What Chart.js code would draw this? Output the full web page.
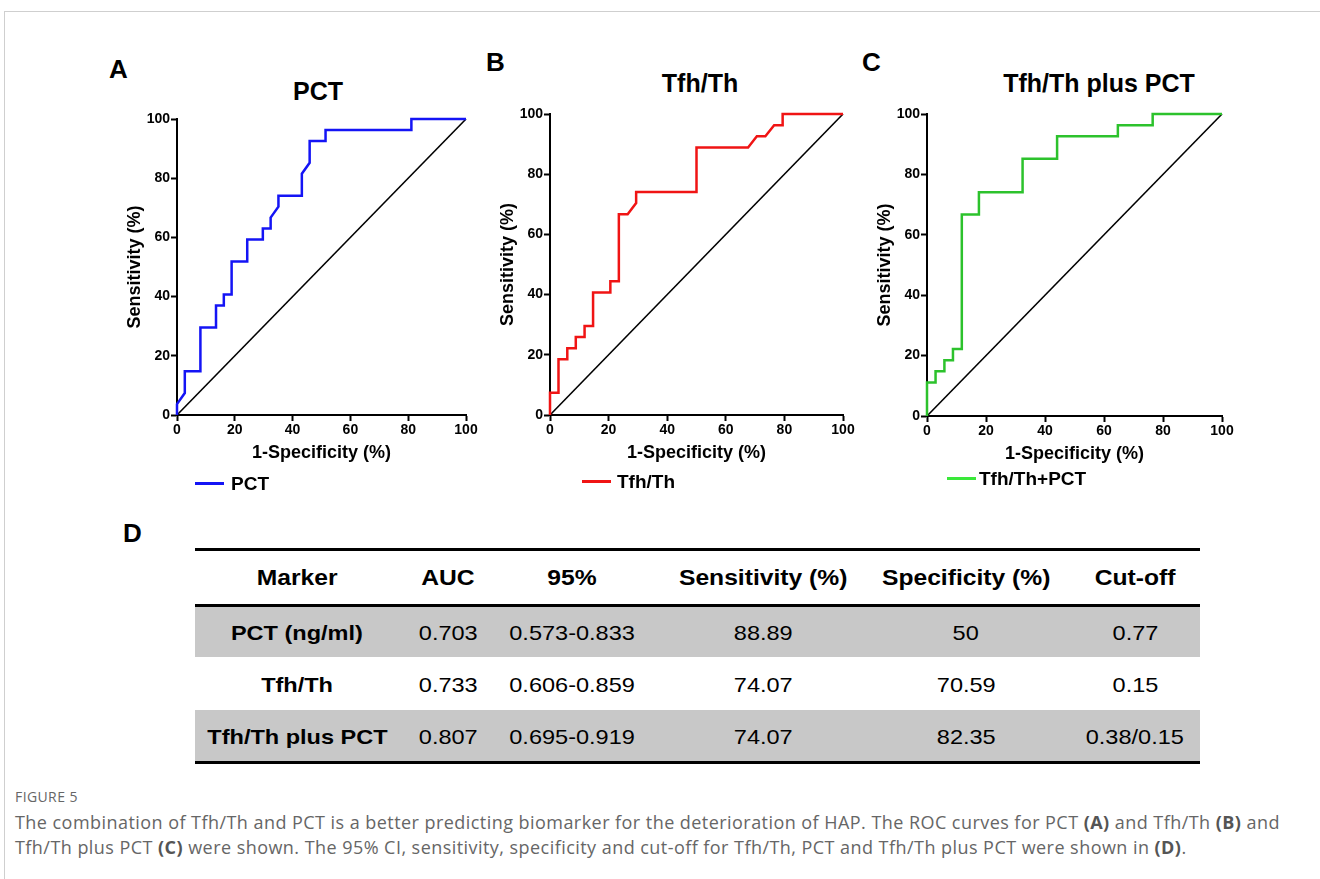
<!DOCTYPE html>
<html lang="en">
<head>
<meta charset="UTF-8">
<title>Figure 5 - ROC curves</title>
<script src="https://cdn.jsdelivr.net/npm/chart.js"></script>
<style>
  html, body { margin: 0; padding: 0; background: #fff; }
  body { width: 1320px; height: 879px; position: relative; overflow: hidden;
         font-family: "Liberation Sans", Arial, Helvetica, sans-serif; color: #000; }
  .frame { position: absolute; left: 4px; top: 11px; width: 1400px; height: 900px;
           border-top: 1px solid #cfcfcf; border-left: 1px solid #cfcfcf; }
  .abs { position: absolute; white-space: nowrap; }
  .letter { font-weight: bold; font-size: 26px; height: 30px; line-height: 30px; }
  .title { font-weight: bold; font-size: 25px; height: 30px; line-height: 30px; width: 300px; text-align: center; }
  .chartbox { position: absolute; }
  .leg-line { position: absolute; height: 3px; width: 29px; }
  .leg-text { position: absolute; font-weight: bold; font-size: 19px; height: 24px; line-height: 24px; }
  .rule { position: absolute; left: 195px; width: 1005px; height: 3px; background: #000; }
  .band { position: absolute; left: 195px; width: 1005px; background: #c8c8c8; }
  .cell { position: absolute; width: 240px; text-align: center; height: 30px; line-height: 30px; font-size: 21px; }
  .cell span { display: inline-block; transform: scaleX(1.12); }
  .cell.b { font-weight: bold; }
  .cell.h { font-weight: bold; font-size: 22px; }
  .cap { position: absolute; left: 15px; font-family: "Open Sans", "Noto Sans", sans-serif; color: #666; white-space: nowrap; }
  .cap b { color: #555; }
</style>
</head>
<body>
<div class="frame"></div>

<!-- panel letters and titles -->
<div class="abs letter" style="left:109px; top:54px;">A</div>
<div class="abs letter" style="left:486px; top:47px;">B</div>
<div class="abs letter" style="left:862px; top:47px;">C</div>
<div class="abs letter" style="left:123px; top:518px;">D</div>

<div class="abs title" style="left:168px; top:76px;">PCT</div>
<div class="abs title" style="left:550px; top:68px;">Tfh/Th</div>
<div class="abs title" style="left:949px; top:68px;">Tfh/Th plus PCT</div>

<div class="chartbox" style="left:117px; top:109px;"><canvas id="chartA" width="364" height="359"></canvas></div>
<div class="chartbox" style="left:490px; top:104px;"><canvas id="chartB" width="368" height="364"></canvas></div>
<div class="chartbox" style="left:867px; top:104px;"><canvas id="chartC" width="370" height="365"></canvas></div>

<div id="legends"></div>
<div id="table"></div>

<div class="cap" style="top:787px; font-size:14px; letter-spacing:0.4px;">FIGURE 5</div>
<div class="cap" style="top:810px; font-size:18px; line-height:25px; letter-spacing:0.45px;">
The combination of Tfh/Th and PCT is a better predicting biomarker for the deterioration of HAP. The ROC curves for PCT <b>(A)</b> and Tfh/Th <b>(B)</b> and<br>
Tfh/Th plus PCT <b>(C)</b> were shown. The 95% CI, sensitivity, specificity and cut-off for Tfh/Th, PCT and Tfh/Th plus PCT were shown in <b>(D)</b>.
</div>

<script>
// ROC vertices: x = 1-Specificity (%), y = Sensitivity (%)
const pctX = [0, 0, 2.7, 2.7, 8.1, 8.1, 13.5, 13.5, 16.2, 16.2, 18.9, 18.9, 24.3, 24.3, 29.7, 29.7,
              32.4, 32.4, 35.1, 35.1, 43.2, 43.2, 45.9, 45.9, 51.4, 51.4, 81.1, 81.1, 100];
const pctY = [0, 3.7, 7.4, 14.8, 14.8, 29.6, 29.6, 37.0, 37.0, 40.7, 40.7, 51.9, 51.9, 59.3, 59.3, 63.0,
              63.0, 66.7, 70.4, 74.1, 74.1, 81.5, 85.2, 92.6, 92.6, 96.3, 96.3, 100, 100];

const tfhX = [0, 0, 2.9, 2.9, 5.9, 5.9, 8.8, 8.8, 11.8, 11.8, 14.7, 14.7, 20.6, 20.6, 23.5, 23.5,
              26.5, 29.4, 29.4, 50, 50, 67.6, 70.6, 73.5, 76.5, 79.4, 79.4, 100];
const tfhY = [0, 7.4, 7.4, 18.5, 18.5, 22.2, 22.2, 25.9, 25.9, 29.6, 29.6, 40.7, 40.7, 44.4, 44.4, 66.7,
              66.7, 70.4, 74.1, 74.1, 88.9, 88.9, 92.6, 92.6, 96.3, 96.3, 100, 100];

const comboX = [0, 0, 2.9, 2.9, 5.9, 5.9, 8.8, 8.8, 11.8, 11.8, 17.6, 17.6, 32.4, 32.4, 44.1, 44.1,
                64.7, 64.7, 76.5, 76.5, 100];
const comboY = [0, 11.1, 11.1, 14.8, 14.8, 18.5, 18.5, 22.2, 22.2, 66.7, 66.7, 74.1, 74.1, 85.2, 85.2, 92.6,
                92.6, 96.3, 96.3, 100, 100];

// reference (chance) line
const diagX = [0, 100];
const diagY = [0, 100];

const axisTicks = [0, 20, 40, 60, 80, 100];

// legend entries
const legendNames = ['PCT', 'Tfh/Th', 'Tfh/Th+PCT'];

// table D
const tableHead = ['Marker', 'AUC', '95%', 'Sensitivity (%)', 'Specificity (%)', 'Cut-off'];
const markers = ['PCT (ng/ml)', 'Tfh/Th', 'Tfh/Th plus PCT'];
const aucVals = ['0.703', '0.733', '0.807'];
const ciVals = ['0.573-0.833', '0.606-0.859', '0.695-0.919'];
const sensVals = ['88.89', '74.07', '74.07'];
const specVals = ['50', '70.59', '82.35'];
const cutoffVals = ['0.77', '0.15', '0.38/0.15'];

const FONT = '"Liberation Sans", Arial, Helvetica, sans-serif';
Chart.defaults.font.family = FONT;
Chart.defaults.color = '#000';

function toPoints(xs, ys) {
  return xs.map((x, i) => ({ x: x, y: ys[i] }));
}

function makeRoc(id, xs, ys, color) {
  const ctx = document.getElementById(id).getContext('2d');
  return new Chart(ctx, {
    type: 'scatter',
    data: {
      datasets: [{
        data: toPoints(xs, ys),
        showLine: true,
        borderColor: color,
        borderWidth: 2.5,
        pointRadius: 0,
        tension: 0,
        clip: false
      }, {
        data: toPoints(diagX, diagY),
        showLine: true,
        borderColor: '#000',
        borderWidth: 1.6,
        pointRadius: 0,
        clip: false
      }]
    },
    options: {
      responsive: false,
      animation: false,
      devicePixelRatio: 1,
      layout: { padding: { left: 3, top: 10, right: 15, bottom: 0 } },
      plugins: { legend: { display: false }, tooltip: { enabled: false } },
      scales: {
        x: {
          type: 'linear', min: 0, max: 100,
          afterBuildTicks: s => { s.ticks = axisTicks.map(v => ({ value: v })); },
          ticks: { color: '#000', font: { size: 14, weight: 'bold' }, padding: 1, maxRotation: 0 },
          grid: { drawOnChartArea: false, drawTicks: true, tickLength: 6, tickWidth: 2, tickColor: '#000' },
          border: { color: '#000', width: 2 },
          title: { display: true, text: '1-Specificity (%)', color: '#000',
                   font: { size: 18, weight: 'bold' }, padding: { top: 0, bottom: 4 } },
          afterFit: s => { s.height = 53; }
        },
        y: {
          type: 'linear', min: 0, max: 100,
          afterBuildTicks: s => { s.ticks = axisTicks.map(v => ({ value: v })); },
          ticks: { color: '#000', font: { size: 14, weight: 'bold' }, padding: 1 },
          grid: { drawOnChartArea: false, drawTicks: true, tickLength: 6, tickWidth: 2, tickColor: '#000' },
          border: { color: '#000', width: 2 },
          title: { display: true, text: 'Sensitivity (%)', color: '#000',
                   font: { size: 18, weight: 'bold' }, padding: { top: 4, bottom: 0 } },
          afterFit: s => { s.width = 57; }
        }
      }
    }
  });
}

const colors = ['#1414f5', '#f01414', '#2cc22c'];
const legendColors = ['#1414f5', '#f01414', '#3ae83a'];
makeRoc('chartA', pctX, pctY, colors[0]);
makeRoc('chartB', tfhX, tfhY, colors[1]);
makeRoc('chartC', comboX, comboY, colors[2]);

// legends under each panel
const legendPos = [
  { line: 195, text: 231, y: 483 },
  { line: 582, text: 617, y: 481 },
  { line: 947, text: 979, y: 478 }
];
const legHost = document.getElementById('legends');
legendNames.forEach((name, i) => {
  const p = legendPos[i];
  legHost.insertAdjacentHTML('beforeend',
    `<div class="leg-line" style="left:${p.line}px; top:${p.y - 1.5}px; background:${legendColors[i]};"></div>` +
    `<div class="leg-text" style="left:${p.text}px; top:${p.y - 11}px;">${name}</div>`);
});

// table D
const colCenters = [297, 448, 572, 763, 966, 1135];
const rowCenters = [633, 685, 737];
const tHost = document.getElementById('table');
let html = '';
html += '<div class="rule" style="top:548px;"></div>';
html += '<div class="rule" style="top:604px;"></div>';
html += '<div class="band" style="top:607px; height:50px;"></div>';
html += '<div class="band" style="top:710px; height:51px;"></div>';
html += '<div class="rule" style="top:761px;"></div>';
function cell(text, cx, cy, cls) {
  return `<div class="cell ${cls}" style="left:${cx - 120}px; top:${cy - 15}px;"><span>${text}</span></div>`;
}
tableHead.forEach((h, c) => { html += cell(h, colCenters[c], 578, 'h'); });
markers.forEach((m, r) => {
  const cols = [m, aucVals[r], ciVals[r], sensVals[r], specVals[r], cutoffVals[r]];
  cols.forEach((v, c) => { html += cell(v, colCenters[c], rowCenters[r], c === 0 ? 'b' : ''); });
});
tHost.innerHTML = html;
</script>
</body>
</html>
